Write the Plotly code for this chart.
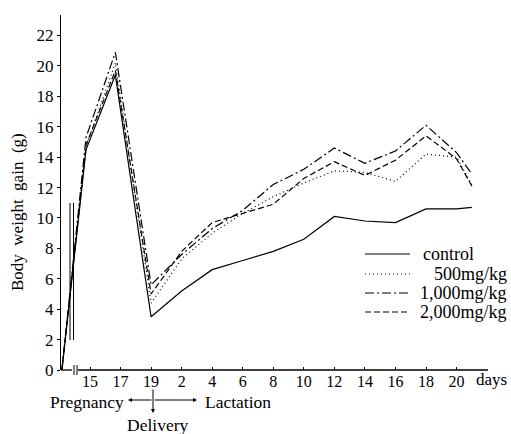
import plotly.graph_objects as go

# ---- data ----
tick_labels = ["15", "17", "19", "2", "4", "6", "8", "10", "12", "14", "16", "18", "20"]
x_pos = [-0.92, -0.13, 0.83, 2, 3, 4, 5, 6, 7, 8, 9, 10, 11, 12, 12.5]
control = [0, 14.5, 19.4, 3.5, 5.2, 6.6, 7.2, 7.8, 8.6, 10.1, 9.8, 9.7, 10.6, 10.6, 10.7]
mg500 = [0, 14.7, 20.2, 4.4, 7.3, 9.0, 10.3, 11.4, 12.3, 13.1, 13.0, 12.4, 14.2, 14.0, 12.2]
mg1000 = [0, 15.3, 20.9, 5.6, 7.6, 9.3, 10.5, 12.2, 13.2, 14.6, 13.6, 14.4, 16.1, 14.3, 12.9]
mg2000 = [0, 14.8, 19.7, 5.0, 7.8, 9.7, 10.3, 10.9, 12.6, 13.7, 12.8, 13.8, 15.4, 13.9, 12.1]
y_ticks = list(range(0, 23, 2))

series = [
    ("control", control, "solid"),
    ("500mg/kg", mg500, "1px,3px"),
    ("1,000mg/kg", mg1000, "9px,3px,2px,3px"),
    ("2,000mg/kg", mg2000, "6px,3px"),
]

FONT = "Liberation Serif, Times New Roman, DejaVu Serif, serif"
L, R, T, B = 61, 488, 15, 370
W, H = 511, 434


def xp(px):
    return (px - L) / (R - L)


def yp(py):
    return (B - py) / (B - T)


def txt(text, x, y, xanchor, size, angle=0):
    return dict(text=text, xref="paper", yref="paper", x=xp(x), y=yp(y),
                xanchor=xanchor, yanchor="middle", showarrow=False, textangle=angle,
                font=dict(family=FONT, size=size, color="black"))


fig = go.Figure()
for name, vals, dash in series:
    fig.add_trace(go.Scatter(x=x_pos, y=vals, mode="lines", name=name,
                             line=dict(color="black", width=1.2, dash=dash)))

shapes = []
# x axis with break
shapes.append(dict(type="line", xref="paper", yref="paper", x0=xp(61), x1=xp(72), y0=0, y1=0,
                   line=dict(color="black", width=1.3)))
shapes.append(dict(type="line", xref="paper", yref="paper", x0=xp(78), x1=1, y0=0, y1=0,
                   line=dict(color="black", width=1.3)))
for bx in (74, 77):
    shapes.append(dict(type="line", xref="paper", yref="paper", x0=xp(bx), x1=xp(bx),
                       y0=yp(375), y1=yp(365), line=dict(color="black", width=1)))
# break marks on lines
for bx in (70, 73.5):
    shapes.append(dict(type="line", xref="paper", yref="paper", x0=xp(bx), x1=xp(bx),
                       y0=yp(340), y1=yp(203), line=dict(color="black", width=1)))

# legend
leg_y = [254, 274, 293, 312]
annotations = []
for (name, vals, dash), ly in zip(series, leg_y):
    shapes.append(dict(type="line", xref="paper", yref="paper", x0=xp(365), x1=xp(410),
                       y0=yp(ly), y1=yp(ly), line=dict(color="black", width=1.2, dash=dash)))
    if name == "control":
        annotations.append(txt(name, 421, ly, "left", 18))
    else:
        annotations.append(txt(name, 509, ly, "right", 18))

annotations.append(txt("days", 474, 379, "left", 17))
annotations.append(txt("Body  weight  gain  (g)", 18, 212, "center", 17, -90))
annotations.append(txt("Pregnancy", 126, 402, "right", 17.5))
annotations.append(txt("Lactation", 203, 402, "left", 17.5))
annotations.append(txt("Delivery", 157, 425, "center", 17.5))
# arrows
for tip in (128, 197):
    annotations.append(dict(text="", xref="paper", yref="paper", x=xp(tip), y=yp(400),
                            ax=153 - tip, ay=0, showarrow=True,
                            arrowhead=2, arrowsize=0.8, arrowwidth=1, arrowcolor="black"))
annotations.append(dict(text="", xref="paper", yref="paper", x=xp(153), y=yp(413),
                        ax=0, ay=-25, showarrow=True,
                        arrowhead=2, arrowsize=0.8, arrowwidth=1, arrowcolor="black"))

fig.update_layout(
    width=W, height=H,
    margin=dict(l=L, r=W - R, t=T, b=H - B),
    paper_bgcolor="white", plot_bgcolor="white",
    showlegend=False,
    font=dict(family=FONT, size=16, color="black"),
    shapes=shapes, annotations=annotations,
    xaxis=dict(range=[-0.95, 13.03], tickvals=list(range(len(tick_labels))), ticktext=tick_labels,
               showgrid=False, zeroline=False, showline=False, ticks="inside", ticklen=3,
               tickcolor="black", tickfont=dict(family=FONT, size=16, color="black")),
    yaxis=dict(range=[0, 23.35], tickvals=y_ticks, showgrid=False, zeroline=False,
               showline=True, linecolor="black", linewidth=1.3, ticks="outside", ticklen=3,
               tickcolor="black", tickfont=dict(family=FONT, size=17, color="black")),
)

fig.write_html("out.html", config={"displayModeBar": False},
               post_script="document.body.style.margin='0';document.body.style.overflow='hidden';")
